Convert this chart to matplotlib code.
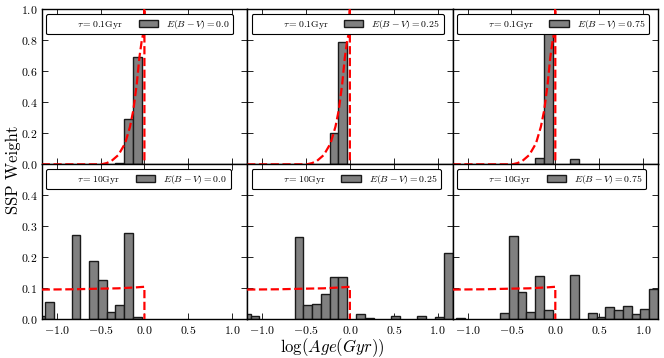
import matplotlib
matplotlib.use("Agg")
import matplotlib.pyplot as plt
from matplotlib.lines import Line2D

plt.rcParams['font.family'] = 'serif'
plt.rcParams['font.serif'] = ['cmr10', 'DejaVu Serif']
plt.rcParams['mathtext.fontset'] = 'cm'
plt.rcParams['axes.formatter.use_mathtext'] = True
plt.rcParams['axes.unicode_minus'] = True

# log(Age/Gyr) bin centres (bin width 0.1)
age_bins = [-1.18, -1.08, -0.98, -0.88, -0.78, -0.68, -0.58, -0.48, -0.38, -0.28,
            -0.18, -0.08, 0.02, 0.12, 0.22, 0.32, 0.42, 0.52, 0.62, 0.72,
            0.82, 0.92, 1.02, 1.12]
bin_width = 0.1

# SSP weights, tau = 0.1 Gyr
w_tau01_ebv000 = [0, 0, 0, 0, 0, 0, 0, 0, 0, 0.010, 0.292, 0.690,
                  0, 0, 0, 0, 0, 0, 0, 0, 0, 0, 0, 0]
w_tau01_ebv025 = [0, 0, 0, 0, 0, 0, 0, 0, 0, 0, 0.200, 0.787,
                  0, 0, 0, 0, 0, 0, 0, 0, 0, 0, 0, 0]
w_tau01_ebv075 = [0, 0, 0, 0, 0, 0, 0, 0, 0, 0, 0.040, 0.930,
                  0, 0, 0.032, 0, 0, 0, 0, 0, 0, 0, 0, 0]
# SSP weights, tau = 10 Gyr
w_tau10_ebv000 = [0.011, 0.055, 0, 0, 0.272, 0, 0.188, 0.128, 0.023, 0.046, 0.278, 0.006,
                  0, 0, 0, 0, 0, 0, 0, 0, 0, 0, 0, 0]
w_tau10_ebv025 = [0.017, 0.011, 0, 0, 0, 0, 0.265, 0.045, 0.050, 0.081, 0.138, 0.136,
                  0, 0.018, 0.004, 0, 0, 0.010, 0, 0, 0.010, 0, 0.007, 0.213]
w_tau10_ebv075 = [0, 0.004, 0, 0, 0, 0, 0.020, 0.268, 0.087, 0.024, 0.139, 0.029,
                  0, 0, 0.143, 0, 0.021, 0.006, 0.039, 0.029, 0.042, 0.018, 0.032, 0.098]

# input star formation histories (red dashed)
sfh_tau01_x = [-1.17, -0.6, -0.49, -0.43, -0.373, -0.297, -0.22, -0.164, -0.126, -0.087,
               -0.057, -0.03, -0.003, 0.0, 0.0]
sfh_tau01_y = [0.0, 0.0, 0.0, 0.008, 0.023, 0.060, 0.135, 0.243, 0.350, 0.520,
               0.690, 0.800, 0.870, 1.20, 0.0]
sfh_tau10_x = [-1.17, -0.8, -0.5, -0.3, -0.1, 0.0, 0.0]
sfh_tau10_y = [0.096, 0.097, 0.099, 0.100, 0.103, 0.105, 0.0]

tau_labels = [r'$\tau = 0.1$Gyr', r'$\tau = 10$Gyr']
ebv_labels = [r'$E(B-V) = 0.0$', r'$E(B-V) = 0.25$', r'$E(B-V) = 0.75$']
weights = [[w_tau01_ebv000, w_tau01_ebv025, w_tau01_ebv075],
           [w_tau10_ebv000, w_tau10_ebv025, w_tau10_ebv075]]
sfh_x = [sfh_tau01_x, sfh_tau10_x]
sfh_y = [sfh_tau01_y, sfh_tau10_y]
ylims = [(0, 1.0), (0, 0.5)]
yticks = [[0.0, 0.2, 0.4, 0.6, 0.8, 1.0], [0.0, 0.1, 0.2, 0.3, 0.4]]
xticks = [-1.0, -0.5, 0.0, 0.5, 1.0]

fig, axes = plt.subplots(2, 3, figsize=(6.64, 3.58), dpi=100)
fig.subplots_adjust(left=0.0628, right=0.991, bottom=0.108, top=0.974,
                    wspace=0, hspace=0)

for r in range(2):
    for c in range(3):
        ax = axes[r, c]
        xs = [a for a, w in zip(age_bins, weights[r][c]) if w > 0]
        hs = [w for w in weights[r][c] if w > 0]
        ax.bar(xs, hs, width=bin_width, color='#808080', edgecolor='#1a1a1a',
               linewidth=1.0, align='center', zorder=2)
        ax.plot(sfh_x[r], sfh_y[r], color='red', linestyle='--', linewidth=1.6,
                zorder=3)
        ax.set_xlim(-1.17, 1.17)
        ax.set_ylim(*ylims[r])
        ax.set_xticks(xticks)
        ax.set_yticks(yticks[r])
        ax.tick_params(direction='in', top=True, right=True, length=4, width=0.6,
                       labelsize=8.5, pad=3)
        for s in ax.spines.values():
            s.set_linewidth(1.0)
        if r == 0:
            ax.set_xticklabels([])
        if c > 0:
            ax.set_yticklabels([])
        handles = [Line2D([], [], linestyle='none'),
                   plt.Rectangle((0, 0), 1, 1, facecolor='#808080',
                                 edgecolor='#1a1a1a', linewidth=1.0)]
        leg = ax.legend(handles, [tau_labels[r], ebv_labels[c]], loc='upper left',
                        ncol=2, fontsize=7, fancybox=True, framealpha=1,
                        handlelength=2.0, columnspacing=1.6, borderaxespad=0.45)
        leg.get_frame().set_edgecolor('black')
        leg.get_frame().set_linewidth(0.8)
        leg.set_zorder(5)

fig.text(0.5, 0.030, r'$\log(Age(Gyr))$', ha='center', va='center', fontsize=12)
fig.text(0.02, 0.525, 'SSP Weight', ha='center', va='center', rotation=90,
         fontsize=12)

fig.savefig('out.png', dpi=100)
